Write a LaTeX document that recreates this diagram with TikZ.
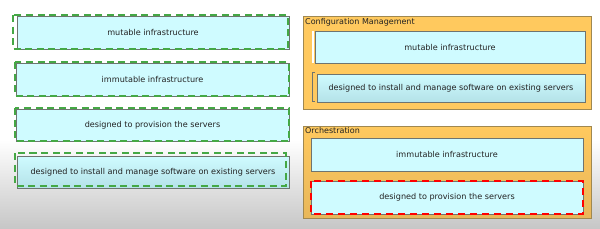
\documentclass[tikz,border=0pt]{standalone}
\usepackage{fontspec}
\setmainfont{DejaVu Sans}
\begin{document}
\begin{tikzpicture}[x=1pt,y=-1pt,
  lbox/.style={draw=boxedge, fill=boxfill, line width=0.8pt, inner sep=0pt, outer sep=0pt, anchor=north west, font=\fontsize{8.1}{9}\selectfont, text=txt},
  shadedbox/.style={lbox, top color=boxfill, bottom color=boxshade},
  greendash/.style={draw=grn, line width=1.7pt, dash pattern=on 7pt off 4.5pt},
  reddash/.style={draw=red, line width=1.7pt, dash pattern=on 7pt off 5pt},
  grp/.style={draw=grpedge, fill=grpfill, line width=0.8pt},
  grptitle/.style={anchor=north west, inner sep=0pt, font=\fontsize{8}{9}\selectfont, text=txt}
]
\definecolor{boxedge}{HTML}{6E7470}
\definecolor{boxfill}{HTML}{CFFBFF}
\definecolor{boxshade}{HTML}{B4E2E8}
\definecolor{grn}{HTML}{45A845}
\definecolor{grpedge}{HTML}{A08850}
\definecolor{grpfill}{HTML}{FFC95E}
\definecolor{grpshade}{HTML}{E8B75A}
\definecolor{txt}{HTML}{222222}
\useasboundingbox (0,0) rectangle (600,228);
% background
\fill[white] (0,0) rectangle (600,228);
\shade[top color=white, bottom color=black!22] (0,140) rectangle (600,228);
% left column
\node[lbox, minimum width=272pt, minimum height=33pt] (m1) at (17,16) {mutable infrastructure};
\draw[greendash] (13,15) rectangle (288,49);
\node[lbox, minimum width=273pt, minimum height=33pt] (m2) at (16,63) {immutable infrastructure};
\draw[greendash] (15,62) rectangle (289,96);
\node[lbox, minimum width=273pt, minimum height=32pt] (m3) at (16,109) {designed to provision the servers};
\draw[greendash] (15,108) rectangle (289,141);
\node[shadedbox, minimum width=272pt, minimum height=32pt] (m4) at (17,156) {designed to install and manage software on existing servers};
\draw[greendash] (15,153) rectangle (286,186);
% configuration management group
\draw[grp] (303,16) rectangle (591,109);
\node[grptitle] (cmtitle) at (305,18.5) {Configuration Management};
\draw[white, line width=1.2pt] (313,31) -- (313,63);
\node[lbox, minimum width=270pt, minimum height=32pt] (ca) at (315,31) {mutable infrastructure};
\draw[boxedge, line width=0.6pt] (315,72) -- (312,72) -- (312,101) -- (315,101);
\node[shadedbox, minimum width=268pt, minimum height=28pt] (cb) at (317,74) {designed to install and manage software on existing servers};
% orchestration group
\draw[grp, top color=grpfill, bottom color=grpshade] (303,126) rectangle (591,218);
\node[grptitle] (ortitle) at (305,127.5) {Orchestration};
\node[lbox, minimum width=272pt, minimum height=33pt] (oa) at (311,138) {immutable infrastructure};
\node[lbox, minimum width=272pt, minimum height=33pt] (ob) at (311,181) {designed to provision the servers};
\draw[reddash] (311,181) rectangle (583,214);
\end{tikzpicture}
\end{document}
